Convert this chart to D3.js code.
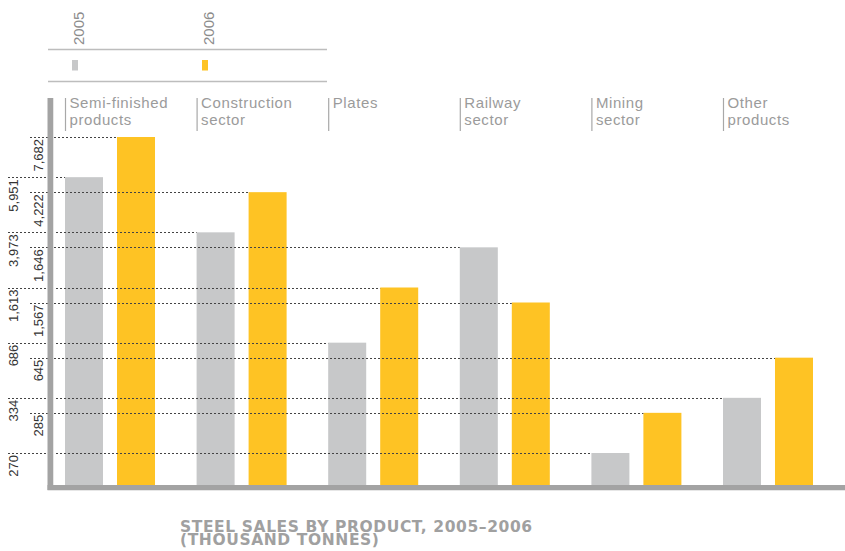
<!DOCTYPE html>
<html>
<head>
<meta charset="utf-8">
<script src="https://cdn.jsdelivr.net/npm/d3@7"></script>
<style>
  html, body { margin: 0; padding: 0; background: #fff; }
  svg { display: block; font-family: "Liberation Sans", Arial, sans-serif; }
</style>
</head>
<body>
<svg id="chart" width="845" height="551"></svg>
<script>
// Product groups (two-line labels) and yearly steel sales, thousand tonnes
const categories = ["Semi-finished products", "Construction sector", "Plates", "Railway sector", "Mining sector", "Other products"];
const categoryLines = [["Semi-finished", "products"], ["Construction", "sector"], ["Plates"], ["Railway", "sector"], ["Mining", "sector"], ["Other", "products"]];
const years = ["2005", "2006"];
const sales2005 = [5951, 3973, 686, 1646, 270, 334];
const sales2006 = [7682, 4222, 1613, 1567, 285, 645];
const titleLines = ["STEEL SALES BY PRODUCT, 2005–2006", "(THOUSAND TONNES)"];

const colors = { "2005": "#c7c8c9", "2006": "#fec324" };
const axisColor = "#a3a3a3";

const svg = d3.select("#chart");

const rows = [];
categories.forEach((c, i) => {
  rows.push({ category: c, year: "2005", value: sales2005[i] });
  rows.push({ category: c, year: "2006", value: sales2006[i] });
});

// Bars are placed by rank: values are stacked in alternating label columns,
// each step up the ranking climbs half a tier.
const ranked = rows.map(d => d.value).sort((a, b) => a - b);
const rankOf = v => ranked.indexOf(v);
const tier = d3.scaleLinear().domain([0, 6]).range([453, 122]);
const y = v => {
  const r = rankOf(v);
  return tier(Math.ceil(r / 2)) + (r % 2 ? 15 : 0);
};
const baseline = 485;

const x0 = d3.scaleBand().domain(categories).range([65, 813]).paddingInner(0.316).paddingOuter(0);
const x1 = d3.scaleBand().domain(years).range([0, x0.bandwidth()]).paddingInner(0.269).paddingOuter(0);
const barX = d => x0(d.category) + x1(d.year);

// Bars
svg.append("g").selectAll("rect").data(rows).join("rect")
  .attr("x", barX)
  .attr("y", d => y(d.value))
  .attr("width", x1.bandwidth())
  .attr("height", d => baseline - y(d.value))
  .attr("fill", d => colors[d.year]);

// Leader lines from value labels to each bar's top
const leftCol = r => r % 2 === 0;
svg.append("g").selectAll("line").data(rows).join("line")
  .attr("x1", d => leftCol(rankOf(d.value)) ? 8 : 30)
  .attr("x2", d => barX(d))
  .attr("y1", d => Math.round(y(d.value)) + 0.5)
  .attr("y2", d => Math.round(y(d.value)) + 0.5)
  .attr("stroke", "#444")
  .attr("stroke-width", 1)
  .attr("stroke-dasharray", "2,2");

// Value labels, rotated, in two columns
svg.append("g").selectAll("text").data(rows).join("text")
  .attr("transform", d => `translate(${leftCol(rankOf(d.value)) ? 18 : 43},${y(d.value) + 2}) rotate(-90)`)
  .attr("text-anchor", "end")
  .attr("font-size", 13)
  .attr("fill", "#333")
  .text(d => d3.format(",")(d.value));

// Axes: thick grey rules
svg.append("rect").attr("x", 47.5).attr("y", 98).attr("width", 5.5).attr("height", 392).attr("fill", axisColor);
svg.append("rect").attr("x", 47.5).attr("y", baseline).attr("width", 845 - 47.5).attr("height", 5).attr("fill", axisColor);
svg.append("line").attr("x1", 53.5).attr("x2", 53.5).attr("y1", 98).attr("y2", baseline).attr("stroke", "#e6e6e6");
svg.append("line").attr("x1", 47.5).attr("x2", 845).attr("y1", 490.5).attr("y2", 490.5).attr("stroke", "#e6e6e6");

// Category headers with a thin separator
const head = svg.append("g").selectAll("g").data(categories).join("g")
  .attr("transform", d => `translate(${x0(d)},0)`);
head.append("line")
  .attr("x1", 0.5).attr("x2", 0.5).attr("y1", 98).attr("y2", 131)
  .attr("stroke", "#a8a8a8").attr("stroke-width", 1.2);
head.each(function (d, i) {
  d3.select(this).selectAll("text").data(categoryLines[i]).join("text")
    .attr("x", 4.5)
    .attr("y", (t, j) => 108 + j * 16.5)
    .attr("font-size", 15)
    .attr("letter-spacing", 0.6)
    .attr("fill", "#9b9b9b")
    .text(t => t);
});

// Legend
const legend = svg.append("g");
legend.append("line").attr("x1", 48).attr("x2", 327).attr("y1", 49.5).attr("y2", 49.5).attr("stroke", "#bdbdbd").attr("stroke-width", 1.3);
legend.append("line").attr("x1", 48).attr("x2", 327).attr("y1", 81.5).attr("y2", 81.5).attr("stroke", "#bdbdbd").attr("stroke-width", 1.3);
const legendX = d3.scalePoint().domain(years).range([72, 202]);
legend.selectAll("rect").data(years).join("rect")
  .attr("x", d => legendX(d)).attr("y", 60).attr("width", 6).attr("height", 10.5)
  .attr("fill", d => colors[d]);
legend.selectAll("text").data(years).join("text")
  .attr("transform", d => `translate(${legendX(d) + 11.5},45) rotate(-90)`)
  .attr("font-size", 15)
  .attr("fill", "#8c8c8c")
  .text(d => d);

// Title: one text block, two lines
svg.append("text")
  .attr("font-family", "'DejaVu Sans', sans-serif")
  .attr("font-size", 15.5)
  .attr("font-weight", "bold")
  .attr("letter-spacing", 0.6)
  .attr("fill", "#a0a0a0")
  .selectAll("tspan").data(titleLines).join("tspan")
  .attr("x", 180)
  .attr("y", (d, i) => 531.5 + i * 13.5)
  .text(d => d);
</script>
</body>
</html>
